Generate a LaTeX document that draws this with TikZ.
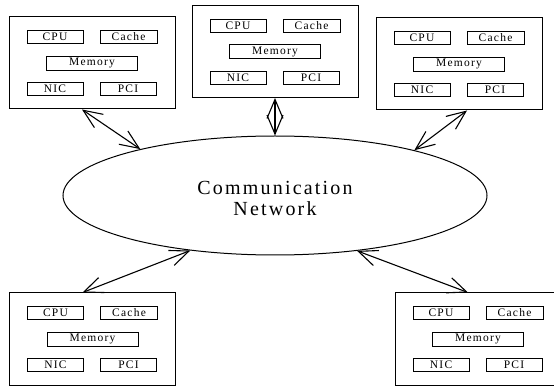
\documentclass[tikz,border=0pt]{standalone}
\usepackage{fontspec}
\setmainfont{Liberation Serif}[LetterSpace=11]
\usepackage{tikz}
\usetikzlibrary{shapes.geometric,arrows.meta,calc}
\tikzset{
    netcloud/.style={ellipse, draw, line width=1pt, minimum width=424pt, minimum height=119pt, inner sep=0pt, align=center, font=\fontsize{20}{21}\selectfont},
    host/.style={rectangle, draw, line width=1pt, minimum width=166pt, minimum height=92pt},
    part/.style={rectangle, draw, line width=0.9pt, minimum height=13pt, inner sep=0pt, font=\fontsize{11.5}{12}\selectfont},
    link/.style={line width=1.1pt, {Straight Barb[length=19pt,width=16pt]}-{Straight Barb[length=19pt,width=16pt]}},
}

\begin{document}
\begin{tikzpicture}[x=1pt, y=-1pt]
    \clip (0,0) rectangle (554,387);

    % Interconnect in the middle
    \node[netcloud] (net) at (275,195.5) {};
    \node[align=center, font=\fontsize{20}{21}\selectfont] (netlabel) at (275,198) {Communication\\Network};

    % Hosts, each with its parts
    \foreach \n/\x/\y in {tl/92/63, tm/275/51.5, tr/459/64, bl/92.5/339, br/478/339} {
        \node[host] (\n) at (\x,\y) {};
        \node[part, minimum width=56pt] (\n-cpu) at ($(\n)+(-37,-26)$) {CPU};
        \node[part, minimum width=57pt] (\n-cache) at ($(\n)+(36.5,-26)$) {Cache};
        \node[part, minimum width=91pt, minimum height=14pt] (\n-mem) at ($(\n)+(0,0)$) {Memory};
        \node[part, minimum width=56pt] (\n-nic) at ($(\n)+(-37,26)$) {NIC};
        \node[part, minimum width=56pt] (\n-pci) at ($(\n)+(36,26)$) {PCI};
    }

    % Links to the network
    \draw[link] ($(tl.south)+(-10,0)$) -- (net.161.6);
    \draw[link] (tm.south) -- (net.north);
    \draw[link] ($(tr.south)+(8,0)$) -- (net.18.4);
    \draw[link] ($(bl.north)+(-10,0)$) -- (net.213.1);
    \draw[link] ($(br.north)+(-10,0)$) -- (net.326.9);
\end{tikzpicture}
\end{document}
